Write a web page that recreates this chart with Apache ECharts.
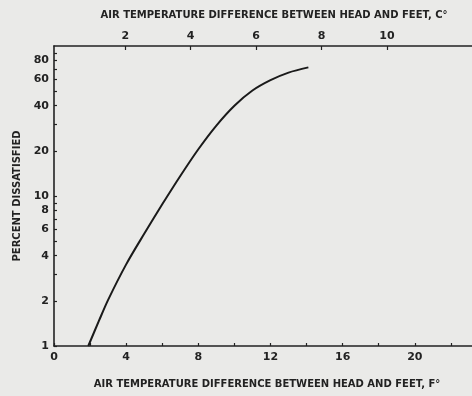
<!DOCTYPE html>
<html>
<head>
<meta charset="utf-8">
<script src="https://cdn.jsdelivr.net/npm/echarts@6/dist/echarts.min.js"></script>
<style>
html,body{margin:0;padding:0;background:#eaeae8;}
#chart{width:472px;height:396px;}
</style>
</head>
<body>
<div id="chart"></div>
<script>
// Data
const tempDiffF = [1.9, 2.5, 3.0, 4.0, 5.0, 6.0, 7.0, 8.0, 9.0, 10.0, 11.0, 12.0, 13.0, 14.1];
const percentDissatisfied = [1.0, 1.48, 2.03, 3.5, 5.6, 8.8, 13.6, 20.5, 29.5, 40, 50.5, 59.2, 66.5, 72];
const fLabelValues = [0, 4, 8, 12, 16, 20];
const fTickValues = [0, 2, 4, 6, 8, 10, 12, 14, 16, 18, 20, 22];
const cLabelValues = [2, 4, 6, 8, 10];
const pctLabelValues = [1, 2, 4, 6, 8, 10, 20, 40, 60, 80];
const pctTickValues = [1, 2, 3, 4, 5, 6, 7, 8, 9, 10, 20, 30, 40, 50, 60, 70, 80, 90];
const xNameF = 'AIR TEMPERATURE DIFFERENCE BETWEEN HEAD AND FEET, F°';
const xNameC = 'AIR TEMPERATURE DIFFERENCE BETWEEN HEAD AND FEET, C°';
const yName = 'PERCENT DISSATISFIED';

const ink = '#222';
const font = 'DejaVu Sans';
const chart = echarts.init(document.getElementById('chart'));
const seriesData = tempDiffF.map((f, i) => [f, percentDissatisfied[i]]);

chart.setOption({
  backgroundColor: '#eaeae8',
  animation: false,
  grid: { left: 54, right: 0, top: 46, bottom: 50 },
  xAxis: [
    {
      type: 'value', position: 'bottom', min: 0, max: 23.17,
      name: xNameF, nameLocation: 'middle', nameGap: 33,
      nameTextStyle: { color: ink, fontFamily: font, fontWeight: 'bold', fontSize: 10, padding: [0, 0, 0, 8] },
      axisLine: { show: true, lineStyle: { color: ink, width: 1.6 } },
      axisTick: { show: true, inside: true, length: 3, customValues: fTickValues, lineStyle: { color: ink, width: 1.2 } },
      axisLabel: { customValues: fLabelValues, color: ink, fontFamily: font, fontWeight: 'bold', fontSize: 11, margin: 6 },
      splitLine: { show: false }
    },
    {
      type: 'value', position: 'top', min: -0.177, max: 12.6,
      name: xNameC, nameLocation: 'middle', nameGap: 26,
      nameTextStyle: { color: ink, fontFamily: font, fontWeight: 'bold', fontSize: 10, padding: [0, 0, 0, 22] },
      axisLine: { show: true, lineStyle: { color: ink, width: 1.6 } },
      axisTick: { show: true, inside: true, length: 4, customValues: cLabelValues, lineStyle: { color: ink, width: 1.2 } },
      axisLabel: { customValues: cLabelValues, color: ink, fontFamily: font, fontWeight: 'bold', fontSize: 11, margin: 4 },
      splitLine: { show: false }
    }
  ],
  yAxis: {
    type: 'log', logBase: 10, min: 1, max: 100,
    name: yName, nameLocation: 'middle', nameGap: 31, nameRotate: 90,
    nameTextStyle: { color: ink, fontFamily: font, fontWeight: 'bold', fontSize: 10 },
    axisLine: { show: true, lineStyle: { color: ink, width: 1.6 } },
    axisTick: { show: true, inside: true, length: 3, customValues: pctTickValues, lineStyle: { color: ink, width: 1.2 } },
    axisLabel: { customValues: pctLabelValues, color: ink, fontFamily: font, fontWeight: 'bold', fontSize: 11, margin: 5 },
    splitLine: { show: false },
    minorTick: { show: false }
  },
  series: [{
    type: 'line', xAxisIndex: 0, data: seriesData, smooth: 0.3,
    showSymbol: false, symbol: 'none',
    lineStyle: { color: '#1a1a1a', width: 2 }
  }]
});
</script>
</body>
</html>
